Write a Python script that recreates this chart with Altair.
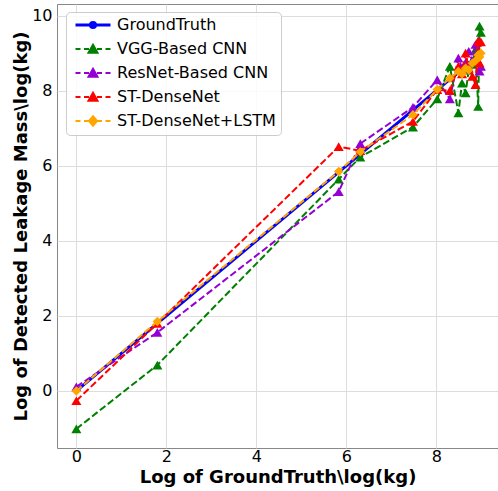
import altair as alt
import pandas as pd

series = ["GroundTruth", "VGG-Based CNN", "ResNet-Based CNN", "ST-DenseNet", "ST-DenseNet+LSTM"]

x_vals = [0.0, 1.80, 5.83, 6.31, 7.48, 8.02, 8.30, 8.49, 8.57, 8.65, 8.72, 8.80, 8.87, 8.93, 8.96, 8.99]
ground_truth = [0.0, 1.80, 5.83, 6.31, 7.48, 8.02, 8.30, 8.49, 8.57, 8.65, 8.72, 8.80, 8.87, 8.93, 8.96, 8.99]
vgg = [-1.01, 0.69, 5.64, 6.23, 7.03, 7.78, 8.65, 7.41, 8.20, 7.94, 8.55, 8.70, 9.10, 7.58, 9.72, 9.55]
resnet = [0.11, 1.56, 5.31, 6.59, 7.56, 8.29, 7.78, 8.87, 8.60, 8.75, 9.05, 8.80, 9.23, 9.32, 8.52, 8.65]
st_dense = [-0.26, 1.80, 6.51, 6.40, 7.18, 8.03, 8.00, 8.65, 8.45, 9.00, 8.60, 8.38, 8.16, 9.32, 8.74, 9.30]
st_lstm = [0.0, 1.85, 5.85, 6.37, 7.36, 8.03, 8.33, 8.51, 8.45, 8.60, 8.55, 8.73, 8.80, 8.95, 8.90, 9.00]

x_ticks = [0, 2, 4, 6, 8]
y_ticks = [0, 2, 4, 6, 8, 10]

colors = ["#0000ff", "#008000", "#9400d3", "#ff0000", "#ffa500"]
shapes = ["circle", "triangle-up", "triangle-up", "triangle-up", "diamond"]
sizes = [25, 100, 100, 100, 90]
widths = [3, 2, 2, 2, 2]
dashed = [False, True, True, True, True]

dash_path = "M-3.5,0L-2.5,0M-1.8,0L-0.8,0M0.8,0L1.8,0M2.5,0L3.5,0"
tri_path = "M-0.9,0.75L0,-0.85L0.9,0.75Z"
legend_paths = [
    "M-3.5,-0.1L3.5,-0.1M-3.5,0.1L3.5,0.1M0.6,0A0.6,0.6 0 1,1 -0.6,0A0.6,0.6 0 1,1 0.6,0Z",
    dash_path + tri_path,
    dash_path + tri_path,
    dash_path + tri_path,
    dash_path + "M0,-0.95L0.8,0L0,0.95L-0.8,0Z",
]

values = [ground_truth, vgg, resnet, st_dense, st_lstm]
rows = []
for name, ys in zip(series, values):
    for i, (xv, yv) in enumerate(zip(x_vals, ys)):
        rows.append({"series": name, "x": xv, "y": yv, "idx": i})
df = pd.DataFrame(rows)

font = "DejaVu Sans"
xscale = alt.Scale(domain=[-0.43, 9.37], nice=False, zero=False)
yscale = alt.Scale(domain=[-1.52, 10.31], nice=False, zero=False)

xenc = alt.X("x:Q", scale=xscale,
             axis=alt.Axis(values=x_ticks, title="Log of GroundTruth\\log(kg)", format="d"))
yenc = alt.Y("y:Q", scale=yscale,
             axis=alt.Axis(values=y_ticks, title="Log of Detected Leakage Mass\\log(kg)", format="d"))

base = alt.Chart(df)
layers = []

legend_layer = base.transform_filter("false").mark_point(
    filled=True, opacity=1, strokeWidth=2
).encode(
    x=xenc, y=yenc,
    fill=alt.Fill("series:N", scale=alt.Scale(domain=series, range=colors),
                  legend=alt.Legend(
                      title=None, orient="none", legendX=9, legendY=8,
                      labelFont=font, labelFontSize=16, labelColor="#000000",
                      symbolSize=100, symbolStrokeWidth=2, symbolOffset=14,
                      labelOffset=16, rowPadding=7, padding=5,
                      fillColor="rgba(255,255,255,0.85)", strokeColor="#cccccc",
                      cornerRadius=4, labelLimit=400)),
    stroke=alt.Stroke("series:N", scale=alt.Scale(domain=series, range=colors)),
    shape=alt.Shape("series:N", scale=alt.Scale(domain=series, range=legend_paths)),
)

for name, c, shp, sz, w, d in zip(series, colors, shapes, sizes, widths, dashed):
    sub = base.transform_filter(alt.datum.series == name)
    line_kwargs = dict(color=c, strokeWidth=w)
    if d:
        line_kwargs["strokeDash"] = [7, 3]
    layers.append(sub.mark_line(**line_kwargs).encode(
        x=xenc, y=yenc, order="idx:Q"))
    layers.append(sub.mark_point(filled=True, opacity=1, shape=shp, size=sz, color=c).encode(
        x=xenc, y=yenc))

chart = alt.layer(*layers, legend_layer).properties(
    width=441, height=444,
    autosize=alt.AutoSizeParams(type="none"),
    padding={"left": 57, "top": 4, "right": 0, "bottom": 43},
).configure_view(
    stroke="#888888", strokeWidth=1
).configure_axis(
    domain=False, ticks=False, grid=True, gridColor="#dddddd", gridWidth=1,
    labelFont=font, labelFontSize=16, labelColor="#000000",
    titleFont=font, titleFontSize=18, titleFontWeight="bold", titleColor="#000000",
).configure_axisY(
    titlePadding=1, labelPadding=5
).configure_axisX(
    titlePadding=4, labelPadding=0
)

chart.save("out.html", embed_options={"renderer": "svg", "actions": False})
